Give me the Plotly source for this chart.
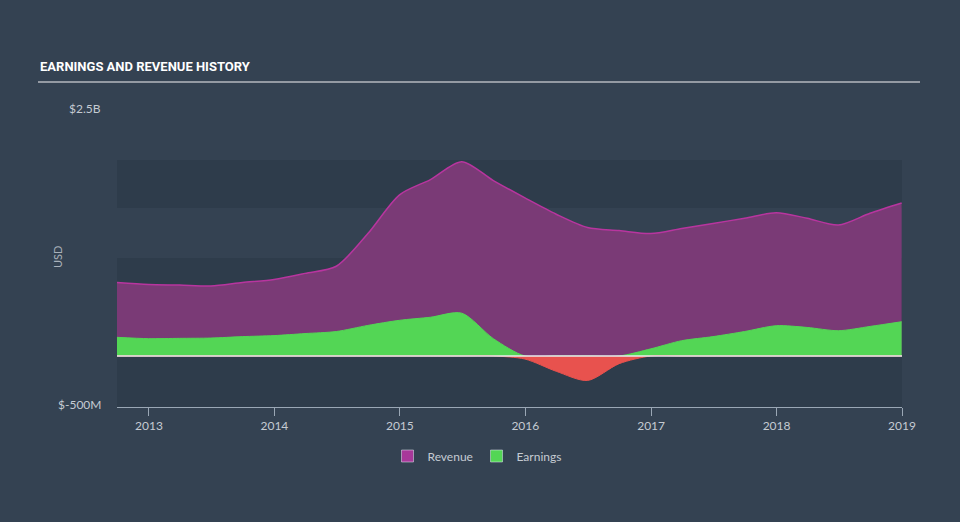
import plotly.graph_objects as go

dates = ["2012-09-30", "2012-12-31", "2013-03-31", "2013-06-30", "2013-09-30", "2013-12-31",
         "2014-03-31", "2014-06-30", "2014-09-30", "2014-12-31", "2015-03-31", "2015-06-30",
         "2015-09-30", "2015-12-31", "2016-03-31", "2016-06-30", "2016-09-30", "2016-12-31",
         "2017-03-31", "2017-06-30", "2017-09-30", "2017-12-31", "2018-03-31", "2018-06-30",
         "2018-09-30", "2018-12-31"]
revenue = [0.72, 0.70, 0.695, 0.686, 0.72, 0.75, 0.81, 0.88, 1.20, 1.58, 1.73, 1.905,
           1.72, 1.55, 1.39, 1.26, 1.23, 1.20, 1.25, 1.30, 1.35, 1.405, 1.35, 1.284, 1.40, 1.50]
earnings = [0.183, 0.17, 0.173, 0.176, 0.19, 0.20, 0.22, 0.24, 0.30, 0.35, 0.38, 0.42,
            0.17, -0.03, -0.15, -0.24, -0.075, 0.07, 0.15, 0.19, 0.24, 0.297, 0.28, 0.248, 0.29, 0.336]
y_tick_labels = ["$2.5B", "$-500M"]
y_tick_vals = [2.5, -0.5]

BG = "#344252"
BAND = "#2e3c4b"
PURPLE_FILL = "#7a3a76"
PURPLE_LINE = "#b8359f"
GREEN = "#53d655"
RED = "#e8524e"
TXT = "#c5cbd2"

earn_pos = [max(v, 0) for v in earnings]
earn_neg = [min(v, 0) for v in earnings]

fig = go.Figure()
fig.add_trace(go.Scatter(x=dates, y=revenue, mode="lines", fill="tozeroy",
                         line=dict(color=PURPLE_LINE, width=1.5, shape="spline", smoothing=0.8),
                         fillcolor=PURPLE_FILL, showlegend=False, hoverinfo="skip"))
fig.add_trace(go.Scatter(x=dates, y=earn_pos, mode="lines", fill="tozeroy",
                         line=dict(color=GREEN, width=1, shape="spline", smoothing=0.8),
                         fillcolor=GREEN, showlegend=False, hoverinfo="skip"))
fig.add_trace(go.Scatter(x=dates, y=earn_neg, mode="lines", fill="tozeroy",
                         line=dict(color=RED, width=1, shape="spline", smoothing=0.8),
                         fillcolor=RED, showlegend=False, hoverinfo="skip"))
# legend entries
fig.add_trace(go.Bar(x=[None], y=[None], name="Revenue", marker_color="#a8389a"))
fig.add_trace(go.Bar(x=[None], y=[None], name="Earnings", marker_color=GREEN))

# zero line
fig.add_shape(type="line", xref="paper", yref="y", x0=0, x1=1, y0=0, y1=0,
              line=dict(color="#e8ecef", width=1.5), layer="above")
# background bands
fig.add_shape(type="rect", xref="paper", yref="y", x0=0, x1=1, y0=1.451, y1=1.922,
              fillcolor=BAND, line_width=0, layer="below")
fig.add_shape(type="rect", xref="paper", yref="y", x0=0, x1=1, y0=-0.5, y1=0.961,
              fillcolor=BAND, line_width=0, layer="below")
# title underline
fig.add_shape(type="line", xref="paper", yref="paper", x0=(38 - 117) / 785, x1=(920 - 117) / 785,
              y0=(407 - 82) / 306, y1=(407 - 82) / 306, line=dict(color="#b4b9bf", width=1.5))

fig.add_annotation(text="EARNINGS AND REVENUE HISTORY", xref="paper", yref="paper",
                   x=(38 - 117) / 785, y=(407 - 67) / 306, xanchor="left", yanchor="middle",
                   showarrow=False,
                   font=dict(family="Roboto, Liberation Sans, sans-serif",
                             size=13, color="#ffffff", weight="bold"))
for lab, val in zip(y_tick_labels, y_tick_vals):
    fig.add_annotation(text=lab, xref="paper", yref="y", x=0, y=val, xanchor="right",
                       yanchor="middle", xshift=-14, yshift=(-7 if val > 0 else 3), showarrow=False,
                       font=dict(family="Lato, Open Sans, sans-serif", size=12, color=TXT))
fig.add_annotation(text="USD", xref="paper", yref="paper", x=(57 - 117) / 785, y=(407 - 257) / 306,
                   textangle=-90, showarrow=False, xanchor="center", yanchor="middle",
                   font=dict(family="Lato, Open Sans, sans-serif", size=11, color="#a9b1ba"))

fig.update_layout(
    width=960, height=522,
    margin=dict(l=117, r=58, t=101, b=115),
    paper_bgcolor=BG, plot_bgcolor=BG,
    font=dict(family="Lato, Open Sans, sans-serif", color=TXT, size=12),
    xaxis=dict(type="date", range=["2012-09-30", "2019-01-01"],
               tickvals=["2013-01-01", "2014-01-01", "2015-01-01", "2016-01-01", "2017-01-01",
                         "2018-01-01", "2019-01-01"],
               ticktext=["2013", "2014", "2015", "2016", "2017", "2018", "2019"],
               showgrid=False, zeroline=False, showline=True, linecolor="#9aa7b5", linewidth=1,
               ticks="outside", ticklen=8, tickcolor="#9aa7b5", tickfont=dict(size=12, color=TXT)),
    yaxis=dict(range=[-0.5, 2.5], showgrid=False, zeroline=False, showticklabels=False),
    legend=dict(orientation="h", x=0.5 - 33 / 785, xanchor="center", y=(407 - 456) / 306,
                yanchor="middle", font=dict(size=12, color=TXT), bgcolor="rgba(0,0,0,0)",
                entrywidth=44),
    showlegend=True,
)

fig.write_html("out.html")
